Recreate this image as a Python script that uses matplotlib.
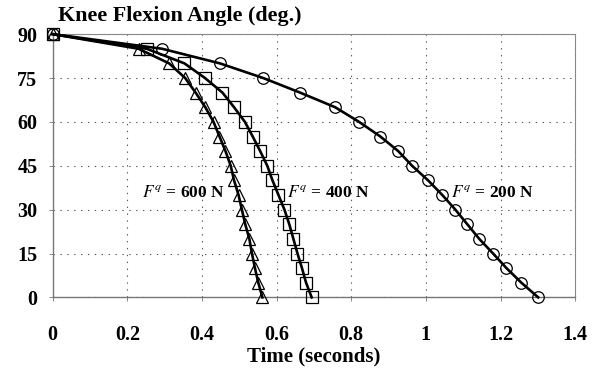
import matplotlib
matplotlib.use("Agg")
import matplotlib.pyplot as plt

plt.rcParams['font.family'] = ['Liberation Serif', 'DejaVu Serif']
plt.rcParams['mathtext.fontset'] = 'stix'

angles = [90, 85, 80, 75, 70, 65, 60, 55, 50, 45, 40, 35, 30, 25, 20, 15, 10, 5, 0]
t_600 = [0.0, 0.230, 0.312, 0.355, 0.383, 0.409, 0.431, 0.447, 0.463, 0.477,
         0.486, 0.498, 0.507, 0.516, 0.527, 0.534, 0.542, 0.551, 0.562]
t_400 = [0.0, 0.252, 0.353, 0.408, 0.455, 0.486, 0.515, 0.536, 0.556, 0.575,
         0.589, 0.605, 0.621, 0.634, 0.645, 0.656, 0.668, 0.679, 0.694]
t_200 = [0.0, 0.293, 0.448, 0.564, 0.663, 0.757, 0.821, 0.878, 0.926, 0.963,
         1.006, 1.044, 1.079, 1.111, 1.143, 1.180, 1.216, 1.256, 1.301]

x_ticks = [0, 0.2, 0.4, 0.6, 0.8, 1, 1.2, 1.4]
x_tick_labels = ['0', '0.2', '0.4', '0.6', '0.8', '1', '1.2', '1.4']
y_ticks = [0, 15, 30, 45, 60, 75, 90]

labels = [r'$F^q$ = 600 N', r'$F^q$ = 400 N', r'$F^q$ = 200 N']
label_pos = [(0.240, 35.8), (0.629, 35.8), (1.068, 35.8)]

fig = plt.figure(figsize=(5.96, 3.75), dpi=100)
ax = fig.add_axes([0.0884, 0.207, 0.8766, 0.702])

series = [(t_600, '^'), (t_400, 's'), (t_200, 'o')]
for t, m in series:
    ax.plot(t, angles, color='black', linewidth=1.9, zorder=3, clip_on=False)
    ax.plot(t, angles, linestyle='none', marker=m, markersize=8.3,
            markerfacecolor='none', markeredgecolor='black',
            markeredgewidth=0.9, zorder=4, clip_on=False)

ax.set_xlim(0, 1.4)
ax.set_ylim(0, 90)
ax.set_xticks(x_ticks)
ax.set_xticklabels(x_tick_labels)
ax.set_yticks(y_ticks)

ax.grid(True, color='#555555', linestyle=(0, (1.2, 5)), linewidth=0.8)
ax.set_axisbelow(True)

for side in ['left', 'bottom']:
    ax.spines[side].set_color('#777777')
    ax.spines[side].set_linewidth(1.0)
for side in ['right', 'top']:
    ax.spines[side].set_color('#888888')
    ax.spines[side].set_linestyle((0, (1, 1)))
    ax.spines[side].set_linewidth(0.8)

ax.tick_params(axis='both', length=3, width=0.6, color='#777777',
               labelsize=14.5)
ax.tick_params(axis='y', pad=8)
ax.tick_params(axis='x', pad=17)
for lab in ax.get_xticklabels() + ax.get_yticklabels():
    lab.set_fontweight('bold')

ax.set_xlabel('Time (seconds)', fontsize=15, fontweight='bold', labelpad=1)
fig.text(0.097, 0.957, 'Knee Flexion Angle (deg.)', fontsize=15.8,
         fontweight='bold', ha='left', va='center')

for txt, (x, y) in zip(labels, label_pos):
    ax.text(x, y, txt, fontsize=12.5, fontweight='bold', ha='left',
            va='center', zorder=5)

fig.savefig('out.png', dpi=100)
